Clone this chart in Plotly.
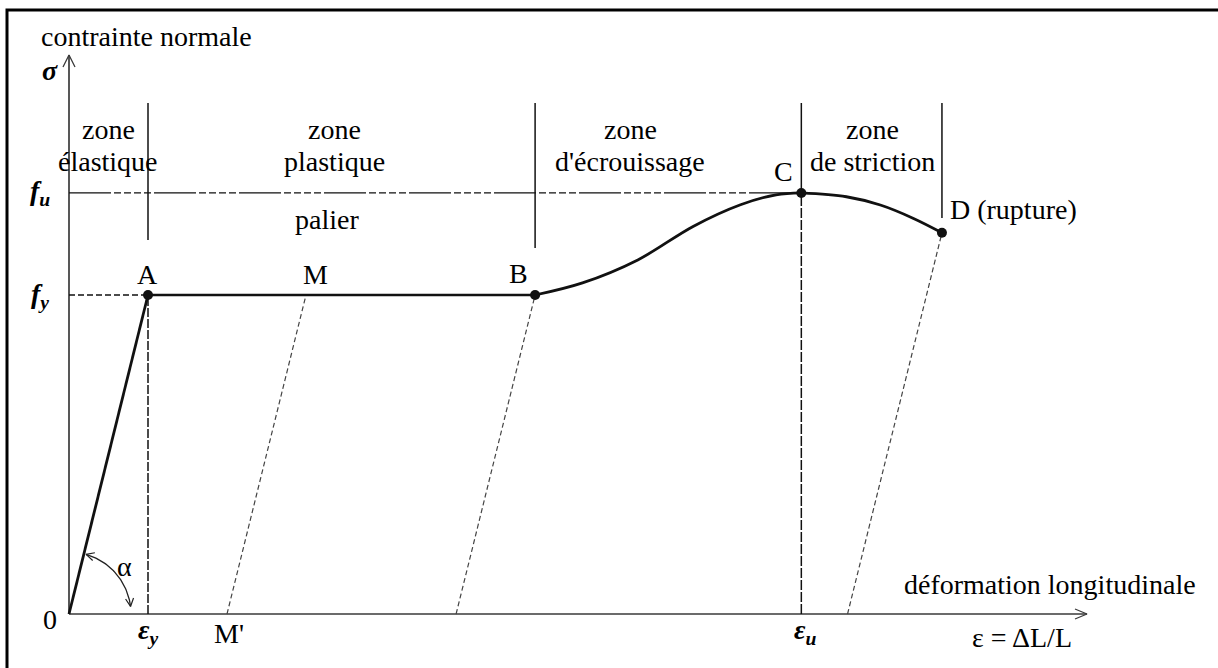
import numpy as np
import plotly.graph_objects as go

# ---------------------------------------------------------------
# Stress-strain diagram of mild steel (schematic, normalised units:
# sigma / f_y on the vertical axis, epsilon / eps_y on the horizontal)
# ---------------------------------------------------------------
point_names = ["A", "M", "B", "C", "D"]
point_eps = [1.0, 3.0, 5.9, 9.27, 11.05]
point_sig = [1.0, 1.0, 1.0, 1.32, 1.195]

f_y = 1.0
f_u = 1.32
eps_y = 1.0
eps_u = 9.27
E_mod = f_y / eps_y  # slope of elastic line (also of unloading lines)

# strain-hardening branch B -> C
hardening_eps = [5.9, 6.5, 7.2, 7.9, 8.5, 8.95, 9.27]
hardening_sig = [1.0, 1.038, 1.11, 1.215, 1.283, 1.314, 1.32]

# necking branch C -> D
necking_eps = [9.27, 9.84, 10.27, 10.69, 11.05]
necking_sig = [1.32, 1.308, 1.282, 1.240, 1.195]

# points from which an elastic unloading line is drawn
unload_points = ["M", "B", "D"]

# zone boundaries on the strain axis
zone_bounds = [1.0, 5.9, 9.27, 11.05]

# ---------------------------------------------------------------
W, H = 1218, 668
X_RANGE = [-69 / 79, (W - 69) / 79]
Y_RANGE = [-(H - 614) / 319, 614 / 319]
SX = (X_RANGE[1] - X_RANGE[0]) / W   # data units per pixel (x)
SY = (Y_RANGE[1] - Y_RANGE[0]) / H   # data units per pixel (y)


def px2x(px):
    return X_RANGE[0] + px * SX


def py2y(py):
    return Y_RANGE[1] - py * SY


pts = dict(zip(point_names, zip(point_eps, point_sig)))
INK = "#111111"
AXIS = "#3a3a3a"
FONT = "Liberation Serif, Times New Roman, serif"
FS = 28

fig = go.Figure()


def add_line(xs, ys, color=INK, width=2.0, dash="solid", shape="linear", smoothing=1.0):
    line = dict(color=color, width=width, dash=dash, shape=shape)
    if shape == "spline":
        line["smoothing"] = smoothing
    fig.add_trace(go.Scatter(x=xs, y=ys, mode="lines", hoverinfo="skip", line=line))


def chevron(tx, ty, ux, uy, length=12, half=5):
    """Open arrow head with tip (tx, ty) pointing along pixel direction (ux, uy), y up."""
    n = np.hypot(ux, uy)
    ux, uy = ux / n, uy / n
    bx, by = -ux * length, -uy * length
    px_, py_ = -uy * half, ux * half
    xs = [tx + (bx + px_) * SX, tx, tx + (bx - px_) * SX]
    ys = [ty + (by + py_) * SY, ty, ty + (by - py_) * SY]
    return xs, ys


# ---- axes with arrow heads ----
y_top = (614 - 55) * SY
x_end = (1087 - 69) * SX
add_line([0, 0], [0, y_top], color=AXIS, width=1.7)
add_line([0, x_end], [0, 0], color=AXIS, width=1.7)
cx, cy = chevron(0, y_top, 0, 1, length=12, half=6)
add_line(cx, cy, color=AXIS, width=1.3)
cx, cy = chevron(x_end, 0, 1, 0, length=12, half=5)
add_line(cx, cy, color=AXIS, width=1.3)

# ---- reference lines f_u and f_y ----
add_line([0, eps_u], [f_u, f_u], color=INK, width=1.4,
         dash="42px,3px,7px,3px,7px,3px,7px,3px,7px,3px")
add_line([0, eps_y], [f_y, f_y], color=INK, width=1.4, dash="6px,3px")

# ---- zone separators ----
sep_top = py2y(103)
sep_bottom = [py2y(240), py2y(248), pts["C"][1], py2y(218)]
for xb, yb in zip(zone_bounds, sep_bottom):
    add_line([xb, xb], [yb, sep_top], color=INK, width=1.5)
# continuation down to the strain axis below A and C
add_line([eps_y, eps_y], [0, f_y], color=INK, width=1.5, dash="9px,2px")
add_line([eps_u, eps_u], [0, f_u], color=INK, width=1.5, dash="10px,2px")

# ---- elastic unloading lines (parallel to OA) ----
for name in unload_points:
    e, s = pts[name]
    add_line([e - s / E_mod, e], [0, s], color="#444444", width=1.2, dash="5px,3px")

# ---- stress-strain curve ----
add_line([0, pts["A"][0]], [0, pts["A"][1]], width=2.8)
add_line([pts["A"][0], pts["B"][0]], [pts["A"][1], pts["B"][1]], width=2.3)
add_line(hardening_eps, hardening_sig, width=2.8, shape="spline", smoothing=1.0)
add_line(necking_eps, necking_sig, width=2.8, shape="spline", smoothing=1.0)

# characteristic points
dot_names = ["A", "B", "C", "D"]
fig.add_trace(go.Scatter(
    x=[pts[n][0] for n in dot_names], y=[pts[n][1] for n in dot_names],
    mode="markers", hoverinfo="skip",
    marker=dict(color=INK, size=10, line=dict(width=0)),
))

# ---- angle alpha between OA and the strain axis ----
R = 62
th = np.radians(np.linspace(74, 7, 60))
add_line(R * np.cos(th) * SX, R * np.sin(th) * SY, color="#222222", width=1.3)
t0, t1 = th[0], th[-1]
cx, cy = chevron(R * np.cos(t0) * SX, R * np.sin(t0) * SY, -np.sin(t0), np.cos(t0), length=8, half=4)
add_line(cx, cy, color="#222222", width=1.2)
cx, cy = chevron(R * np.cos(t1) * SX, R * np.sin(t1) * SY, np.sin(t1), -np.cos(t1), length=8, half=4)
add_line(cx, cy, color="#222222", width=1.2)

# ---- text ----
ann = []


def label(text, x, y, xanchor="center", xshift=0, yshift=0, size=FS):
    ann.append(dict(text=text, x=x, y=y, xref="x", yref="y", showarrow=False,
                    xanchor=xanchor, yanchor="middle", xshift=xshift, yshift=yshift,
                    font=dict(family=FONT, size=size, color="black")))


label("contrainte normale", px2x(39), py2y(36), xanchor="left")
label("<b><i>σ</i></b>", px2x(50), py2y(70))
label("<b><i>f<sub>u</sub></i></b>", px2x(40), f_u)
label("<b><i>f<sub>y</sub></i></b>", px2x(40), f_y)
label("0", px2x(50), 0, yshift=-5)
label("<b><i>ε<sub>y</sub></i></b>", eps_y, py2y(631))
label("<b><i>ε<sub>u</sub></i></b>", eps_u, py2y(631), xshift=4)
label("M'", pts["M"][0] - pts["M"][1] / E_mod, py2y(633), xshift=2)
label("α", px2x(124), py2y(566))

label("A", *pts["A"], xshift=-1, yshift=21)
label("M", *pts["M"], xshift=9, yshift=21)
label("B", *pts["B"], xshift=-17, yshift=22)
label("C", *pts["C"], xshift=-18, yshift=21)
label("D (rupture)", *pts["D"], xanchor="left", xshift=6, yshift=23)

zone_text = [("zone", "élastique", 108), ("zone", "plastique", 334),
             ("zone", "d'écrouissage", 630), ("zone", "de striction", 872)]
for l1, l2, xc in zone_text:
    label(l1, px2x(xc), py2y(129))
    label(l2, px2x(xc), py2y(161))
label("palier", px2x(327), py2y(219))

label("déformation longitudinale", px2x(1050), py2y(584))
label("ε = ΔL/L", px2x(1022), py2y(637))

# frame around the whole drawing
fig.add_shape(type="rect", xref="paper", yref="paper",
              x0=7 / W, x1=1224 / W, y0=1 - 674 / H, y1=1 - 10 / H,
              line=dict(color="black", width=3), layer="above")

fig.update_layout(
    width=W, height=H, autosize=False,
    margin=dict(l=0, r=0, t=0, b=0),
    paper_bgcolor="white", plot_bgcolor="white",
    showlegend=False, annotations=ann,
    xaxis=dict(range=X_RANGE, visible=False, fixedrange=True),
    yaxis=dict(range=Y_RANGE, visible=False, fixedrange=True),
)

fig.write_html("out.html")
